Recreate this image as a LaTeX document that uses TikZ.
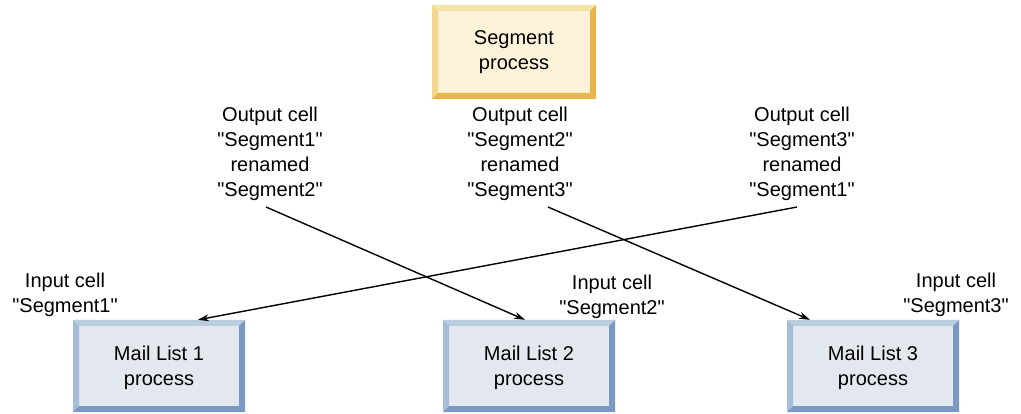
\documentclass[tikz,border=0pt]{standalone}
\usepackage{fontspec}
\setmainfont{Liberation Sans}
\usetikzlibrary{arrows.meta, positioning}

\definecolor{segface}{HTML}{FBF2D8}
\definecolor{segtop}{HTML}{F6E3A8}
\definecolor{segleft}{HTML}{F1D88E}
\definecolor{segdark}{HTML}{E6B64A}
\definecolor{mailface}{HTML}{E3E8EE}
\definecolor{mailtop}{HTML}{B9CDDD}
\definecolor{mailleft}{HTML}{A4BEDA}
\definecolor{maildark}{HTML}{7A98C2}

% straight quotes round a cell name
\newcommand{\cellname}[1]{\textquotedbl#1\textquotedbl}

% bevelled box: #1 face, #2 top, #3 left, #4 right and bottom
\tikzset{
  bevel/.style n args={4}{
    fill=#1, inner sep=0pt, align=center,
    font=\fontsize{20}{25}\selectfont,
    path picture={
      \coordinate (nw) at (path picture bounding box.north west);
      \coordinate (ne) at (path picture bounding box.north east);
      \coordinate (sw) at (path picture bounding box.south west);
      \coordinate (se) at (path picture bounding box.south east);
      \fill[#2] (nw) -- (ne) -- ([shift={(-6pt,-6pt)}]ne) -- ([shift={(6pt,-6pt)}]nw) -- cycle;
      \fill[#3] (nw) -- (sw) -- ([shift={(6pt,6pt)}]sw) -- ([shift={(6pt,-6pt)}]nw) -- cycle;
      \fill[#4] (ne) -- (se) -- ([shift={(-6pt,6pt)}]se) -- ([shift={(-6pt,-6pt)}]ne) -- cycle;
      \fill[#4] (sw) -- (se) -- ([shift={(-6pt,6pt)}]se) -- ([shift={(6pt,6pt)}]sw) -- cycle;
    }
  },
  segbox/.style={bevel={segface}{segtop}{segleft}{segdark}, minimum width=164pt, minimum height=94pt},
  mailbox/.style={bevel={mailface}{mailtop}{mailleft}{maildark}, minimum width=172pt, minimum height=92pt, text depth=-7pt},
  celltext/.style={align=center, inner sep=0pt, font=\fontsize{20}{25}\selectfont},
  link/.style={-{Stealth[length=11pt,width=7pt]}, line width=1.4pt}
}

\begin{document}
\begin{tikzpicture}[x=1pt, y=-1pt]
  \useasboundingbox (0,0) rectangle (1021,414);
  % Segment process
  \node[segbox] (seg) at (514,52) {Segment\\process};
  % Output cells
  \node[celltext] (out1) at (270,154) {Output cell\\\cellname{Segment1}\\renamed\\\cellname{Segment2}};
  \node[celltext] (out2) at (520,154) {Output cell\\\cellname{Segment2}\\renamed\\\cellname{Segment3}};
  \node[celltext] (out3) at (802,154) {Output cell\\\cellname{Segment3}\\renamed\\\cellname{Segment1}};
  % Mail list processes
  \node[mailbox] (ml1) at (159,366) {Mail List 1\\process};
  \node[mailbox] (ml2) at (529,366) {Mail List 2\\process};
  \node[mailbox] (ml3) at (873,366) {Mail List 3\\process};
  % Input cells
  \node[celltext] (in1) at (65,295) {Input cell\\\cellname{Segment1}};
  \node[celltext] (in2) at (612,297) {Input cell\\\cellname{Segment2}};
  \node[celltext] (in3) at (956,295) {Input cell\\\cellname{Segment3}};
  % Renaming links
  \draw[link] ([xshift=-4pt,yshift=-6pt]out1.south) -- ([xshift=-4pt]ml2.north);
  \draw[link] ([xshift=28pt,yshift=-6pt]out2.south) -- ([xshift=-63pt]ml3.north);
  \draw[link] ([xshift=-5pt,yshift=-6pt]out3.south) -- ([xshift=39pt]ml1.north);
\end{tikzpicture}
\end{document}
